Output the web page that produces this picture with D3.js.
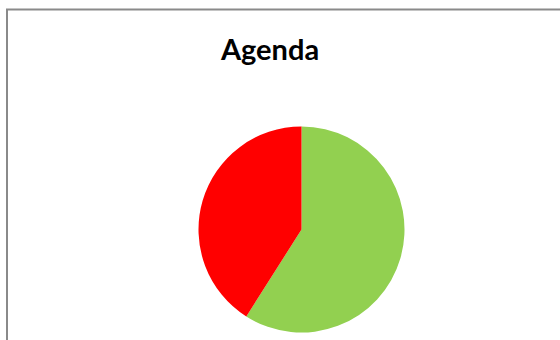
<!DOCTYPE html>
<html>
<head>
<meta charset="utf-8">
<script src="https://cdn.jsdelivr.net/npm/d3@7"></script>
<style>
  html, body { margin: 0; padding: 0; background: #fff; }
  svg { display: block; }
</style>
</head>
<body>
<svg id="chart" width="560" height="340"></svg>
<script>
// Agenda share: two slices, drawn clockwise from 12 o'clock
const categories = ["Done", "Open"];
const values = [59, 41];
const colors = ["#92D050", "#FF0000"];
const title = "Agenda";

const svg = d3.select("#chart");

// chart frame (extends beyond the visible area on right and bottom)
svg.append("rect")
  .attr("x", 7).attr("y", 9.5)
  .attr("width", 600).attr("height", 400)
  .attr("fill", "#fff")
  .attr("stroke", "#8a8a8a")
  .attr("stroke-width", 2);

svg.append("text")
  .attr("x", 270).attr("y", 60)
  .attr("text-anchor", "middle")
  .attr("font-family", "Lato, 'Open Sans', sans-serif")
  .attr("font-weight", "bold")
  .attr("font-size", 29)
  .attr("fill", "#000")
  .text(title);

const cx = 301.5, cy = 229.5, r = 103;
const pie = d3.pie().sort(null).value(d => d.value);
const arc = d3.arc().innerRadius(0).outerRadius(r);
const data = categories.map((c, i) => ({ name: c, value: values[i], color: colors[i] }));

svg.append("g")
  .attr("transform", `translate(${cx},${cy})`)
  .selectAll("path")
  .data(pie(data))
  .join("path")
  .attr("d", arc)
  .attr("fill", d => d.data.color);
</script>
</body>
</html>
